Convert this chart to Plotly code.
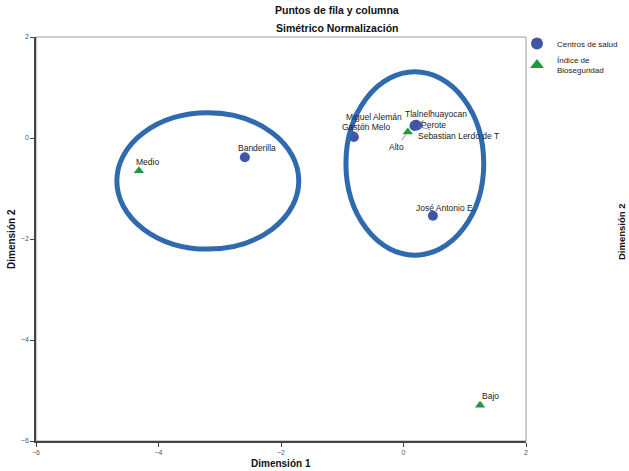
import plotly.graph_objects as go

# Row points: health centres
centros = ["Banderilla", "Gastón Melo", "Miguel Alemán", "Tlalnelhuayocan",
           "Perote", "Sebastian Lerdo de T", "José Antonio E."]
centros_x = [-2.59, -0.81, -0.84, 0.20, 0.22, 0.18, 0.48]
centros_y = [-0.38, 0.02, 0.04, 0.26, 0.25, 0.24, -1.54]

# Column points: biosecurity index
indice = ["Medio", "Alto", "Bajo"]
indice_x = [-4.32, 0.07, 1.25]
indice_y = [-0.65, 0.12, -5.29]

# Label offsets (px) for each point label
centros_off = [(12, -9), (12, -10), (22, -19), (20, -11), (17, 0), (44, 10), (13, -8)]
indice_off = [(9, -9), (-11, 15), (10, -9)]

BLUE = "#3f55a8"
GREEN = "#1f9a3c"
RING = "#2f6aae"
FONT = "Liberation Sans, Arial, sans-serif"

L, R, T, B = 36, 103, 37, 30
PW, PH = 629 - L - R, 471 - T - B


def px_x(p):
    return (p - L) / PW


def px_y(p):
    return (471 - B - p) / PH


fig = go.Figure()
fig.add_trace(go.Scatter(
    x=centros_x, y=centros_y, mode="markers", name="Centros de salud",
    marker=dict(symbol="circle", size=10, color=BLUE),
))
fig.add_trace(go.Scatter(
    x=indice_x, y=indice_y, mode="markers", name="Índice de<br>Bioseguridad",
    marker=dict(symbol="triangle-up", size=9, color=GREEN),
))

for names, xs, ys, offs in ((centros, centros_x, centros_y, centros_off),
                            (indice, indice_x, indice_y, indice_off)):
    for n, x, y, (ax, ay) in zip(names, xs, ys, offs):
        fig.add_annotation(
            x=x, y=y, xref="x", yref="y", text=n, showarrow=True,
            ax=ax, ay=ay, arrowhead=0, arrowwidth=0.8, arrowcolor="#777777",
            standoff=3, font=dict(size=8.5, color="#222222", family=FONT),
        )


def paper_text(text, x, y, size, angle=0):
    fig.add_annotation(text=text, x=px_x(x), y=px_y(y), xref="paper", yref="paper",
                       xanchor="center", yanchor="middle", showarrow=False,
                       textangle=angle,
                       font=dict(size=size, family=FONT, color="#111111"))


# Titles
paper_text("<b>Puntos de fila y columna</b>", 337, 10, 10.5)
paper_text("<b>Simétrico Normalización</b>", 337, 28, 10.5)
# Axis titles
paper_text("<b>Dimensión 1</b>", 281, 463, 10)
paper_text("<b>Dimensión 2</b>", 11, 239, 10, angle=-90)
# Axis title of a neighbouring panel at the right edge
paper_text("<b>Dimensión 2</b>", 621, 232, 9.5, angle=-90)

# Group ellipses
fig.add_shape(type="circle", xref="x", yref="y", x0=-4.68, x1=-1.71, y0=0.50, y1=-2.20,
              line=dict(color=RING, width=5))
fig.add_shape(type="circle", xref="x", yref="y", x0=-0.94, x1=1.31, y0=1.31, y1=-2.32,
              line=dict(color=RING, width=5))
# Plot frame
fig.add_shape(type="rect", xref="paper", yref="paper", x0=0, x1=1, y0=0, y1=1,
              line=dict(color="#9a9a9a", width=1), layer="below")

axis_common = dict(
    showgrid=False, zeroline=False, showline=True, linecolor="#444444", linewidth=1.5,
    ticks="outside", ticklen=4, tickcolor="#444444",
    tickfont=dict(size=7, color="#555555", family=FONT),
    dtick=2, automargin=False, range=[-6, 2],
)
fig.update_xaxes(**axis_common)
fig.update_yaxes(**axis_common)

fig.update_layout(
    width=629, height=471,
    margin=dict(l=L, r=R, t=T, b=B, autoexpand=False),
    plot_bgcolor="white", paper_bgcolor="white",
    font=dict(family=FONT),
    showlegend=True,
    legend=dict(x=px_x(517), y=px_y(29), xanchor="left", yanchor="top",
                font=dict(size=8, family=FONT, color="#222222"),
                tracegroupgap=0, itemwidth=30, itemsizing="constant",
                bgcolor="rgba(0,0,0,0)"),
)

fig.write_html("out.html")
